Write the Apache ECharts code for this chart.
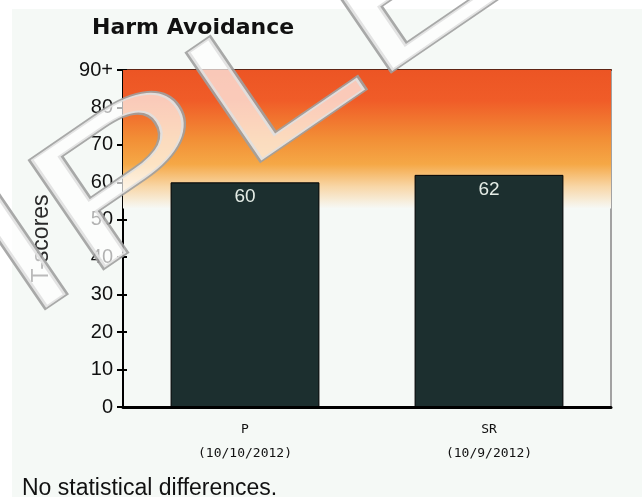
<!DOCTYPE html>
<html>
<head>
<meta charset="utf-8">
<script src="https://cdn.jsdelivr.net/npm/echarts@6/dist/echarts.min.js"></script>
<style>
  html, body { margin: 0; padding: 0; background: #fff; }
  #chart { width: 642px; height: 497px; }
</style>
</head>
<body>
<div id="chart"></div>
<script>
// scale data
const categories = ['P', 'SR'];
const dates = ['10/10/2012', '10/9/2012'];
const scores = [60, 62];
const yTicks = ['0', '10', '20', '30', '40', '50', '60', '70', '80', '90+'];
const bandRange = [53, 90]; // shaded "elevated" zone

const chart = echarts.init(document.getElementById('chart'));

const labelFont = 'Liberation Sans';
const hiddenAxis = {
  min: 0, max: 90, interval: 10,
  axisLabel: { show: false },
  splitLine: { show: false }
};

const option = {
  backgroundColor: '#ffffff',
  animation: false,
  title: {
    text: 'Harm Avoidance',
    left: 92,
    top: 17,
    padding: 0,
    textStyle: {
      fontFamily: 'DejaVu Sans',
      fontWeight: 'bold',
      fontSize: 22,
      color: '#111'
    }
  },
  grid: { left: 123, top: 70, right: 31, bottom: 90, containLabel: false },
  xAxis: [{
    type: 'category',
    data: categories.map(function (c, i) { return c + '\n(' + dates[i] + ')'; }),
    axisLine: { onZero: false, lineStyle: { color: '#000', width: 3 } },
    axisTick: { alignWithLabel: true, length: 4, lineStyle: { color: '#000', width: 1 } },
    axisLabel: {
      margin: 11,
      fontFamily: 'DejaVu Sans Mono',
      fontSize: 13,
      lineHeight: 24,
      color: '#111'
    }
  }, {
    // top border of the plot
    type: 'category',
    position: 'top',
    data: categories,
    axisLine: { onZero: false, lineStyle: { color: '#5e2414', width: 2 } },
    axisTick: { show: false },
    axisLabel: { show: false }
  }],
  yAxis: [Object.assign({}, hiddenAxis, {
    type: 'value',
    name: 'T-scores',
    nameLocation: 'middle',
    nameGap: 70,
    nameRotate: 90,
    nameTextStyle: { fontFamily: labelFont, fontSize: 23, color: '#2a2a2a' },
    axisLine: { show: true, lineStyle: { color: '#000', width: 2 } },
    axisTick: { show: true, length: 6, lineStyle: { color: '#000', width: 2 } },
    axisLabel: {
      show: true,
      margin: 10,
      fontFamily: labelFont,
      fontSize: 20,
      color: '#111',
      formatter: function (v) { return yTicks[Math.round(v / 10)]; }
    }
  }), Object.assign({}, hiddenAxis, {
    // inner half of the crossing ticks
    type: 'value',
    position: 'left',
    axisLine: { show: false },
    axisTick: { show: true, inside: true, length: 4, lineStyle: { color: '#000', width: 2 } }
  }), Object.assign({}, hiddenAxis, {
    // right border of the plot
    type: 'value',
    position: 'right',
    axisLine: { show: true, lineStyle: { color: '#a2a2a2', width: 2 } },
    axisTick: { show: false }
  })],
  series: [{
    type: 'bar',
    data: scores,
    barWidth: '61%',
    itemStyle: { color: '#1c2f2f', borderColor: '#000', borderWidth: 1 },
    label: {
      show: true,
      position: 'insideTop',
      distance: 5,
      fontFamily: labelFont,
      fontSize: 19,
      color: '#e4ece6'
    },
    markArea: {
      silent: true,
      itemStyle: {
        color: {
          type: 'linear', x: 0, y: 0, x2: 0, y2: 1,
          colorStops: [
            { offset: 0, color: '#ec5524' },
            { offset: 0.22, color: '#f05c28' },
            { offset: 0.5, color: '#f28f36' },
            { offset: 0.68, color: '#f5a846' },
            { offset: 0.84, color: '#f8d6a6' },
            { offset: 1, color: '#f6f9f6' }
          ]
        }
      },
      data: [[{ yAxis: bandRange[1] }, { yAxis: bandRange[0] }]]
    }
  }],
  graphic: [{
    type: 'rect',
    z: -10,
    silent: true,
    shape: { x: 12, y: 9, width: 630, height: 488 },
    style: { fill: '#f5f9f6' }
  }, {
    type: 'text',
    left: 22,
    top: 477,
    silent: true,
    style: {
      text: 'No statistical differences.',
      font: '23px "Liberation Sans"',
      fill: '#111'
    }
  }, {
    // SAMPLE watermark laid over the picture
    type: 'text',
    x: 23,
    y: 260,
    rotation: 0.6,
    scaleX: 1.5,
    z: 100,
    silent: true,
    style: {
      text: 'SAMPLE',
      font: '190px "Liberation Sans"',
      align: 'center',
      verticalAlign: 'middle',
      fill: 'rgba(255,255,255,0.68)',
      stroke: 'rgba(160,160,160,0.9)',
      lineWidth: 3.5
    }
  }]
};

chart.setOption(option);
</script>
</body>
</html>
